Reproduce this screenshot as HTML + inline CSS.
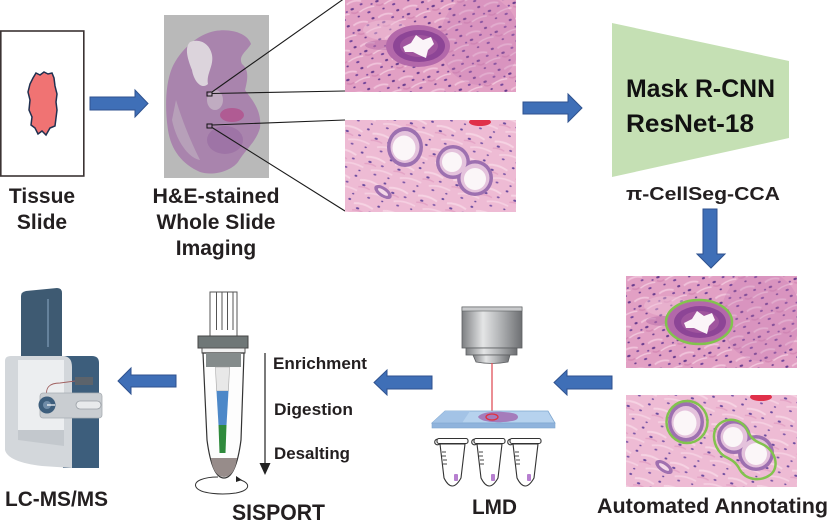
<!DOCTYPE html>
<html><head><meta charset="utf-8">
<style>
html,body{margin:0;padding:0;background:#fff;}
svg{display:block;}
text{font-family:"Liberation Sans",Arial,sans-serif;font-weight:bold;fill:#231f20;}
</style></head><body>
<svg width="831" height="529" viewBox="0 0 831 529" xmlns="http://www.w3.org/2000/svg">
<defs>
 <pattern id="p1" width="26" height="22" patternUnits="userSpaceOnUse" patternTransform="rotate(-18)">
   <rect width="26" height="22" fill="#e2a0c4"/>
   <path d="M0 5 Q8 2 15 6" stroke="#f0c2da" stroke-width="1.8" fill="none"/>
   <path d="M10 16 Q18 13 26 15" stroke="#f1c6dc" stroke-width="1.4" fill="none"/>
   <path d="M2 14 Q6 17 9 15" stroke="#d68bb6" stroke-width="1.5" fill="none"/>
   <ellipse cx="4" cy="11" rx="1.8" ry="1.1" fill="#6a3d8e"/>
   <ellipse cx="14" cy="9" rx="1.5" ry="1" fill="#7b4a9c"/>
   <ellipse cx="21" cy="4" rx="1.6" ry="1.1" fill="#6a3d8e"/>
   <ellipse cx="19" cy="19" rx="1.7" ry="1" fill="#73459a"/>
   <ellipse cx="8" cy="20" rx="1.3" ry="0.9" fill="#6a3d8e"/>
   <ellipse cx="24" cy="12" rx="1.2" ry="0.9" fill="#7b4a9c"/>
 </pattern>
 <pattern id="p2" width="30" height="24" patternUnits="userSpaceOnUse" patternTransform="rotate(15)">
   <rect width="30" height="24" fill="#eebbd4"/>
   <path d="M0 6 Q10 3 20 7" stroke="#f6d3e3" stroke-width="2" fill="none"/>
   <path d="M8 18 Q18 14 30 17" stroke="#f5cfe1" stroke-width="1.8" fill="none"/>
   <path d="M0 13 Q6 11 12 13" stroke="#e4a4c6" stroke-width="1.4" fill="none"/>
   <ellipse cx="5" cy="10" rx="1.7" ry="1" fill="#6a4a9e"/>
   <ellipse cx="18" cy="11" rx="1.5" ry="0.9" fill="#7a55a6"/>
   <ellipse cx="25" cy="3" rx="1.4" ry="1" fill="#6a4a9e"/>
   <ellipse cx="13" cy="21" rx="1.5" ry="0.9" fill="#7a55a6"/>
   <ellipse cx="27" cy="21" rx="1.2" ry="0.8" fill="#6a4a9e"/>
 </pattern>
 <clipPath id="cpH"><rect x="0" y="0" width="171" height="92"/></clipPath>
 <linearGradient id="gObj" x1="0" y1="0" x2="1" y2="0">
   <stop offset="0" stop-color="#7d7f82"/>
   <stop offset="0.35" stop-color="#e4e5e6"/>
   <stop offset="0.6" stop-color="#b8babc"/>
   <stop offset="1" stop-color="#6d6f72"/>
 </linearGradient>
 <g id="h1">
   <g clip-path="url(#cpH)">
     <rect width="171" height="92" fill="url(#p1)"/>
     <ellipse cx="135" cy="40" rx="40" ry="45" fill="#c47ab2" opacity="0.3"/>
     <ellipse cx="40" cy="30" rx="22" ry="10" fill="#f0c4da" opacity="0.45"/>
     <ellipse cx="38" cy="45" rx="18" ry="5" fill="#b86ca8" opacity="0.5"/>
     <ellipse cx="73" cy="46" rx="32" ry="21" fill="#b368aa"/>
     <ellipse cx="74" cy="46" rx="26" ry="16" fill="#8d4596"/>
     <ellipse cx="74" cy="46" rx="19" ry="11" fill="#a0559e"/>
     <path d="M58,47 L66,43 L71,35 L78,40 L86,37 L89,44 L83,50 L81,58 L74,55 L68,52 L60,52 Z" fill="#fbf4f8"/>
   </g>
 </g>
 <g id="h2">
   <g clip-path="url(#cpH)">
     <rect width="171" height="92" fill="url(#p2)"/>
     <ellipse cx="135" cy="2" rx="11" ry="4" fill="#e0304a"/>
     <ellipse cx="60" cy="27" rx="18" ry="20" fill="#9d70b0"/>
     <ellipse cx="60" cy="27" rx="14.5" ry="16" fill="#e4c2dc"/>
     <ellipse cx="59" cy="28" rx="11.5" ry="12.5" fill="#fbf6f8"/>
     <circle cx="108" cy="42" r="17" fill="#9d70b0"/>
     <circle cx="130" cy="58" r="18" fill="#9d70b0"/>
     <circle cx="108" cy="42" r="13.5" fill="#e4c2dc"/>
     <circle cx="130" cy="58" r="14.5" fill="#e4c2dc"/>
     <circle cx="107" cy="42" r="10" fill="#fbf6f8"/>
     <circle cx="130" cy="59" r="11" fill="#fbf6f8"/>
     <ellipse cx="38" cy="72" rx="10" ry="5" transform="rotate(35 38 72)" fill="#a070b0"/>
     <ellipse cx="38" cy="72" rx="6" ry="2" transform="rotate(35 38 72)" fill="#f4d8e8"/>
   </g>
 </g>
</defs>

<!-- Tissue slide -->
<rect x="0.8" y="31" width="83" height="145" fill="#fff" stroke="#3b3333" stroke-width="1.6"/>
<path d="M36,73 L40,75 L44,72 L48,74 L52,73 L54,78 L55,86 L57,94 L56,102 L57,110 L56,118 L55,126 L50,128 L46,135 L42,131 L38,134 L35,128 L31,125 L32,117 L29,110 L30,100 L28,92 L30,84 L33,78 Z" fill="#f07373" stroke="#1f3050" stroke-width="1.5"/>

<!-- Arrow 1 -->
<polygon points="90,97 135,97 135,90 148,103.5 135,117 135,110 90,110" fill="#3f6fb7" stroke="#2f528f" stroke-width="1"/>

<!-- WSI -->
<rect x="164" y="15" width="105" height="163" fill="#b9b9b9"/>
<path d="M215,31 C232,28 248,34 251,44 C246,52 238,56 242,64 C250,70 247,82 245,90 C252,100 262,110 260,128 C256,142 245,150 238,162 C230,172 212,176 200,172 C182,164 171,150 168,130 C165,110 165,85 172,68 C180,50 198,34 215,31 Z" fill="#a984ad"/>
<path d="M190,42 C200,38 210,44 212,55 C214,66 206,74 208,84 C202,90 194,82 192,70 C188,60 184,48 190,42 Z" fill="#dcd4dc"/>
<path d="M176,100 C182,120 190,140 200,160 C188,158 176,140 172,120 Z" fill="#b7a0b9"/>
<ellipse cx="232" cy="115" rx="12" ry="7" fill="#b2518c" opacity="0.8"/>
<ellipse cx="215" cy="100" rx="8" ry="10" fill="#c6b6c6" opacity="0.8"/>
<ellipse cx="225" cy="140" rx="18" ry="14" fill="#9a6ea2" opacity="0.7"/>
<rect x="207" y="92" width="5" height="4" fill="none" stroke="#111" stroke-width="1"/>
<rect x="207" y="124" width="5" height="4" fill="none" stroke="#111" stroke-width="1"/>
<line x1="212" y1="92" x2="345" y2="-2" stroke="#1a1a1a" stroke-width="1.1"/>
<line x1="212" y1="93.5" x2="345" y2="91" stroke="#1a1a1a" stroke-width="1.1"/>
<line x1="212" y1="125" x2="345" y2="120" stroke="#1a1a1a" stroke-width="1.1"/>
<line x1="212" y1="127.5" x2="345" y2="211" stroke="#1a1a1a" stroke-width="1.1"/>

<!-- histology images -->
<use href="#h1" x="345" y="0"/>
<use href="#h2" x="345" y="120"/>

<!-- Arrow 2 -->
<polygon points="523,102 568,102 568,94 582,108 568,122 568,114 523,114" fill="#3f6fb7" stroke="#2f528f" stroke-width="1"/>

<!-- Trapezoid -->
<polygon points="612,23 789,61 789,138 612,177" fill="#c5e0b4"/>
<text x="626" y="97" font-size="25" textLength="149" lengthAdjust="spacingAndGlyphs" style="fill:#111">Mask R-CNN</text>
<text x="626" y="132" font-size="25" textLength="128" lengthAdjust="spacingAndGlyphs" style="fill:#111">ResNet-18</text>
<text x="626" y="200" font-size="18" textLength="154" lengthAdjust="spacingAndGlyphs">π-CellSeg-CCA</text>

<!-- Down arrow -->
<polygon points="703,209 717,209 717,254 725,254 711,268 697,254 703,254" fill="#3f6fb7" stroke="#2f528f" stroke-width="1"/>

<!-- Annotated images -->
<use href="#h1" x="626" y="276"/>
<ellipse cx="699" cy="322" rx="33" ry="22" fill="none" stroke="#82c34e" stroke-width="2.5"/>
<use href="#h2" x="626" y="395"/>
<ellipse cx="687" cy="422" rx="20.5" ry="21" fill="none" stroke="#82c34e" stroke-width="2.5"/>
<path d="M716,428 C722,418 738,416 746,428 C750,436 752,440 762,444 C776,450 780,468 770,475 C760,482 746,480 740,470 C736,462 732,460 724,456 C716,450 711,438 716,428 Z" fill="none" stroke="#82c34e" stroke-width="2.5"/>
<text x="597" y="513" font-size="21" textLength="231" lengthAdjust="spacingAndGlyphs">Automated Annotating</text>

<!-- Left arrows -->
<polygon points="612,376 567,376 567,370 554,382.5 567,395 567,389 612,389" fill="#3f6fb7" stroke="#2f528f" stroke-width="1"/>
<polygon points="432,376 387,376 387,370 374,382.5 387,395 387,389 432,389" fill="#3f6fb7" stroke="#2f528f" stroke-width="1"/>
<polygon points="176,375 131,375 131,368 118,381 131,394 131,387 176,387" fill="#3f6fb7" stroke="#2f528f" stroke-width="1"/>

<!-- LMD -->
<rect x="462" y="307" width="60" height="41" fill="url(#gObj)" stroke="#5d5f62" stroke-width="0.8"/>
<rect x="462" y="307" width="60" height="4" fill="#c9cacc" stroke="#5d5f62" stroke-width="0.6"/>
<rect x="466" y="348" width="51" height="7" fill="url(#gObj)" stroke="#5d5f62" stroke-width="0.8"/>
<path d="M473,355 L510,355 L508,362 Q492,365 476,362 Z" fill="url(#gObj)" stroke="#5d5f62" stroke-width="0.8"/>
<line x1="492" y1="363" x2="492" y2="416" stroke="#e0505a" stroke-width="1.3"/>
<polygon points="445,411 548,411 555,423 432,423" fill="#b6d2ee" stroke="#7fa6cf" stroke-width="0.8"/>
<polygon points="445,411 470,411 462,423 432,423" fill="#a3c3e6"/>
<rect x="432" y="423" width="123" height="5" fill="#8fb3dc" stroke="#7fa6cf" stroke-width="0.6"/>
<path d="M478,417 C482,411 500,411 512,413 C520,414 520,420 512,421 C500,423 482,423 478,417 Z" fill="#a57cbb"/>
<ellipse cx="492" cy="417" rx="6" ry="3" fill="none" stroke="#e03040" stroke-width="1.3"/>
<g fill="#fff" stroke="#333" stroke-width="1.1">
  <circle cx="437.5" cy="442" r="2.8"/>
  <rect x="437" y="438.5" width="31" height="5" rx="2"/>
  <path d="M440,444 L465,444 L461,478 Q452,494 444,478 Z"/>
  <circle cx="474.5" cy="442" r="2.8"/>
  <rect x="474" y="438.5" width="31" height="5" rx="2"/>
  <path d="M477,444 L502,444 L498,478 Q489,494 481,478 Z"/>
  <circle cx="510.5" cy="442" r="2.8"/>
  <rect x="510" y="438.5" width="31" height="5" rx="2"/>
  <path d="M513,444 L538,444 L534,478 Q525,494 517,478 Z"/>
</g>
<g stroke="#333" stroke-width="0.9">
  <line x1="442" y1="452" x2="446" y2="452"/><line x1="442" y1="456" x2="446" y2="456"/><line x1="443" y1="460" x2="447" y2="460"/><line x1="443" y1="464" x2="447" y2="464"/>
  <line x1="479" y1="452" x2="483" y2="452"/><line x1="479" y1="456" x2="483" y2="456"/><line x1="480" y1="460" x2="484" y2="460"/><line x1="480" y1="464" x2="484" y2="464"/>
  <line x1="515" y1="452" x2="519" y2="452"/><line x1="515" y1="456" x2="519" y2="456"/><line x1="516" y1="460" x2="520" y2="460"/><line x1="516" y1="464" x2="520" y2="464"/>
</g>
<g fill="#b77fd0">
  <rect x="454" y="474" width="4" height="7" rx="1"/>
  <rect x="491" y="474" width="4" height="7" rx="1"/>
  <rect x="527" y="474" width="4" height="7" rx="1"/>
</g>
<text x="472" y="514" font-size="21" textLength="45" lengthAdjust="spacingAndGlyphs">LMD</text>

<!-- SISPORT -->
<rect x="210" y="292" width="27" height="44" fill="#fff" stroke="#555" stroke-width="1"/>
<g stroke="#555" stroke-width="1">
  <line x1="216.5" y1="292" x2="216.5" y2="330"/>
  <line x1="222" y1="292" x2="222" y2="330"/>
  <line x1="227.5" y1="292" x2="227.5" y2="330"/>
  <line x1="233" y1="292" x2="233" y2="330"/>
</g>
<rect x="198" y="336" width="50" height="12" fill="#6f7777" stroke="#444" stroke-width="1"/>
<rect x="202" y="348" width="43" height="5" fill="#f2f2f2" stroke="#555" stroke-width="1"/>
<path d="M203,353 L244,353 L241,440 Q236,478 224,478 Q212,478 207,440 Z" fill="#fdfdfd" stroke="#333" stroke-width="1.2"/>
<rect x="206" y="353" width="35" height="14" fill="#858c8c"/>
<polygon points="215.5,367 229.5,367 228.5,391 216.5,391" fill="#e8e8e8" stroke="#999" stroke-width="0.5"/>
<polygon points="216.5,391 228.5,391 226.5,425 218.5,425" fill="#4d88c8"/>
<polygon points="218.5,425 226.5,425 225.5,453 219.5,453" fill="#2f8a3c"/>
<path d="M211,458 L237,458 Q235,476 224,477 Q213,476 211,458 Z" fill="#978c8a"/>
<line x1="265" y1="353" x2="265" y2="465" stroke="#333" stroke-width="1.3"/>
<polygon points="259.5,463 270.5,463 265,475" fill="#222"/>
<path d="M236,479 C250,481 253,490 236,493 C222,495 200,494 196,487 C193,481 204,477 218,477" fill="none" stroke="#333" stroke-width="1"/>
<polygon points="236,476 242,480 236,482" fill="#222"/>
<text x="273" y="369" font-size="16.5" textLength="94" lengthAdjust="spacingAndGlyphs">Enrichment</text>
<text x="274" y="415" font-size="16.5" textLength="79" lengthAdjust="spacingAndGlyphs">Digestion</text>
<text x="274" y="459" font-size="16.5" textLength="76" lengthAdjust="spacingAndGlyphs">Desalting</text>
<text x="232" y="520" font-size="22" textLength="93" lengthAdjust="spacingAndGlyphs">SISPORT</text>

<!-- LC-MS -->
<path d="M21,296 Q21,292 26,291 L57,288 Q62,288 62,293 L62,357 L21,357 Z" fill="#3e5a72"/>
<line x1="48" y1="299" x2="48" y2="347" stroke="#7290aa" stroke-width="1.5"/>
<path d="M58,356 L92,356 Q99,356 99,363 L99,468 L63,468 Z" fill="#3d5e7c"/>
<path d="M5,361 Q5,356 11,356 L64,356 Q72,357 72,367 L72,468 L42,466 Q8,462 5,450 Z" fill="#d3d7db"/>
<rect x="18" y="360" width="46" height="70" fill="#eceef0"/>
<polygon points="18,430 64,430 64,446 18,440" fill="#c3c8cd"/>
<rect x="75" y="377" width="18" height="8" fill="#5c636b"/>
<path d="M47,397 Q44,383 60,383 L75,381" stroke="#a06060" stroke-width="0.9" fill="none"/>
<rect x="40" y="393" width="62" height="25" rx="3" fill="#c9cdd1" stroke="#a8adb2" stroke-width="0.8"/>
<rect x="76" y="401" width="25" height="8" rx="4" fill="#e8eaec" stroke="#9aa0a6" stroke-width="0.8"/>
<circle cx="47" cy="405" r="8.5" fill="#3d5e7c"/>
<circle cx="47" cy="405" r="4" fill="#6f8ca8"/>
<line x1="47" y1="405" x2="55" y2="405" stroke="#fff" stroke-width="1.2"/>
<text x="5" y="506" font-size="21" textLength="103" lengthAdjust="spacingAndGlyphs">LC-MS/MS</text>

<!-- Top-left labels -->
<text x="42" y="203" font-size="21" text-anchor="middle">Tissue</text>
<text x="42" y="229" font-size="21" text-anchor="middle">Slide</text>
<text x="216" y="203" font-size="21" text-anchor="middle" textLength="127" lengthAdjust="spacingAndGlyphs">H&amp;E-stained</text>
<text x="216" y="229" font-size="21" text-anchor="middle">Whole Slide</text>
<text x="216" y="255" font-size="21" text-anchor="middle">Imaging</text>
</svg>
</body></html>
